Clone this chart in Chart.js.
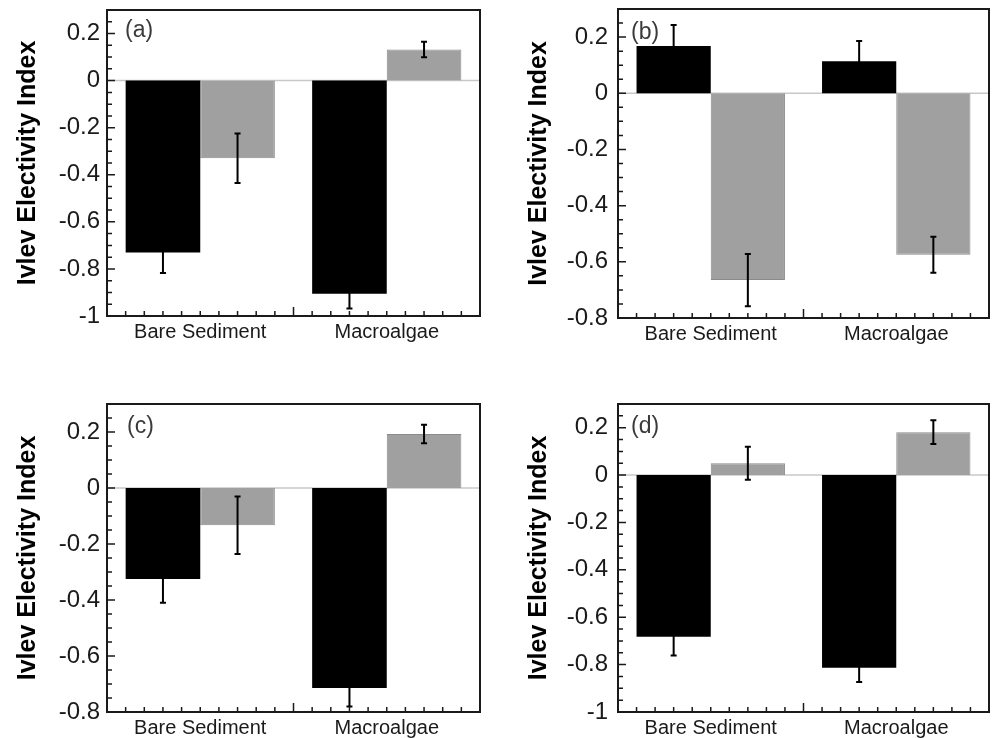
<!DOCTYPE html>
<html>
<head>
<meta charset="utf-8">
<script src="https://cdn.jsdelivr.net/npm/chart.js@4"></script>
<style>
  body { margin: 0; background: #fff; overflow: hidden; }
  canvas { position: absolute; }
</style>
</head>
<body>
<canvas id="a" width="496" height="389" style="left:0;top:-20px"></canvas>
<canvas id="b" width="496" height="390" style="left:496px;top:-21px"></canvas>
<canvas id="c" width="496" height="369" style="left:0;top:369px"></canvas>
<canvas id="d" width="496" height="369" style="left:496px;top:369px"></canvas>
<script>
const categories = ["Bare Sediment", "Macroalgae"];

// (a)
const blackA = [-0.73, -0.905];
const blackErrA = [0.087, 0.063];
const greyA = [-0.33, 0.132];
const greyErrA = [0.105, 0.033];

// (b)
const blackB = [0.168, 0.114];
const blackErrB = [0.075, 0.072];
const greyB = [-0.665, -0.575];
const greyErrB = [0.093, 0.064];

// (c)
const blackC = [-0.325, -0.714];
const blackErrC = [0.085, 0.066];
const greyC = [-0.133, 0.193];
const greyErrC = [0.103, 0.033];

// (d)
const blackD = [-0.682, -0.813];
const blackErrD = [0.08, 0.06];
const greyD = [0.05, 0.181];
const greyErrD = [0.07, 0.05];

const ticksLong = [-1, -0.8, -0.6, -0.4, -0.2, 0, 0.2];
const ticksShort = [-0.8, -0.6, -0.4, -0.2, 0, 0.2];

const FONT = "'Liberation Sans', Arial, Helvetica, sans-serif";

const decorations = {
  id: "decorations",
  beforeDatasetsDraw(chart) {
    const { ctx, chartArea: a, scales: { y } } = chart;
    const y0 = y.getPixelForValue(0);
    ctx.save();
    ctx.strokeStyle = "#c8c8c8";
    ctx.lineWidth = 1.5;
    ctx.beginPath();
    ctx.moveTo(a.left, y0);
    ctx.lineTo(a.right, y0);
    ctx.stroke();
    ctx.restore();
  },
  afterDatasetsDraw(chart) {
    const { ctx, scales: { y } } = chart;
    ctx.save();
    ctx.strokeStyle = "#000";
    ctx.lineWidth = 2;
    chart.data.datasets.forEach((ds, i) => {
      chart.getDatasetMeta(i).data.forEach((bar, j) => {
        const hi = y.getPixelForValue(ds.data[j] + ds.errors[j]);
        const lo = y.getPixelForValue(ds.data[j] - ds.errors[j]);
        ctx.beginPath();
        ctx.moveTo(bar.x, hi); ctx.lineTo(bar.x, lo);
        ctx.moveTo(bar.x - 3, hi); ctx.lineTo(bar.x + 3, hi);
        ctx.moveTo(bar.x - 3, lo); ctx.lineTo(bar.x + 3, lo);
        ctx.stroke();
      });
    });
    ctx.restore();
  },
  afterDraw(chart, args, opts) {
    const { ctx, chartArea: a, scales: { x, y } } = chart;
    ctx.save();
    ctx.strokeStyle = "#1a1a1a";
    ctx.lineWidth = 2;
    ctx.strokeRect(a.left, a.top, a.right - a.left, a.bottom - a.top);

    // inward ticks on the left axis, every 0.05
    ctx.lineWidth = 1.5;
    ctx.beginPath();
    for (let k = Math.ceil(y.min / 0.05); k <= Math.floor(y.max / 0.05); k++) {
      const py = y.getPixelForValue(k * 0.05);
      const len = k % 4 === 0 ? 8 : 5;
      ctx.moveTo(a.left, py); ctx.lineTo(a.left + len, py);
    }
    // inward ticks on the bottom axis, every tenth of a category
    for (let k = -4; k <= 14; k++) {
      const px = x.getPixelForValue(k / 10);
      const len = k === 5 ? 9 : 5;
      ctx.moveTo(px, a.bottom); ctx.lineTo(px, a.bottom - len);
    }
    ctx.stroke();

    ctx.fillStyle = "#3a3a3a";
    ctx.font = "23px " + FONT;
    ctx.textBaseline = "middle";
    ctx.fillText(opts.tag, a.left + opts.dx, a.top + opts.dy);
    ctx.restore();
  }
};

const panels = [
  { id: "a", tag: "(a)", black: blackA, blackErr: blackErrA, grey: greyA, greyErr: greyErrA,
    min: -1, max: 0.3, ticks: ticksLong, padTop: 30, padRight: 16, axisW: 107, axisH: 53,
    tickPad: 7, titlePad: 13, dx: 18, dy: 21 },
  { id: "b", tag: "(b)", black: blackB, blackErr: blackErrB, grey: greyB, greyErr: greyErrB,
    min: -0.8, max: 0.3, ticks: ticksShort, padTop: 30, padRight: 3, axisW: 122, axisH: 51,
    tickPad: 10, titlePad: 28, dx: 13, dy: 24 },
  { id: "c", tag: "(c)", black: blackC, blackErr: blackErrC, grey: greyC, greyErr: greyErrC,
    min: -0.8, max: 0.3, ticks: ticksShort, padTop: 35, padRight: 16, axisW: 107, axisH: 26,
    tickPad: 7, titlePad: 13, dx: 20, dy: 23 },
  { id: "d", tag: "(d)", black: blackD, blackErr: blackErrD, grey: greyD, greyErr: greyErrD,
    min: -1, max: 0.3, ticks: ticksLong, padTop: 35, padRight: 3, axisW: 122, axisH: 26,
    tickPad: 10, titlePad: 28, dx: 13, dy: 23 }
];

panels.forEach(p => {
  new Chart(document.getElementById(p.id), {
    type: "bar",
    data: {
      labels: categories,
      datasets: [
        { label: "Black", data: p.black, errors: p.blackErr, backgroundColor: "#000000",
          borderWidth: 0, categoryPercentage: 0.8, barPercentage: 1.0 },
        { label: "Grey", data: p.grey, errors: p.greyErr, backgroundColor: "#a0a0a0",
          borderColor: "#8a8a8a", borderWidth: 1, categoryPercentage: 0.8, barPercentage: 1.0 }
      ]
    },
    options: {
      responsive: false,
      animation: false,
      layout: { padding: { top: p.padTop, right: p.padRight, left: 0, bottom: 0 } },
      plugins: {
        legend: { display: false },
        tooltip: { enabled: false },
        decorations: { tag: p.tag, dx: p.dx, dy: p.dy }
      },
      scales: {
        x: {
          afterFit(s) { s.height = p.axisH; },
          grid: { display: false, drawTicks: false },
          border: { display: false },
          ticks: { padding: 4, maxRotation: 0, color: "#1a1a1a", font: { size: 20, family: FONT } }
        },
        y: {
          min: p.min,
          max: p.max,
          afterFit(s) { s.width = p.axisW; },
          afterBuildTicks(s) { s.ticks = p.ticks.map(v => ({ value: v })); },
          grid: { display: false, drawTicks: false },
          border: { display: false },
          ticks: {
            padding: p.tickPad,
            color: "#1a1a1a",
            font: { size: 24, family: FONT },
            callback: v => String(Math.round(v * 10) / 10)
          },
          title: {
            display: true,
            text: "Ivlev Electivity Index",
            color: "#000",
            font: { size: 25, weight: "bold", family: FONT },
            padding: { top: p.titlePad, bottom: 0 }
          }
        }
      }
    },
    plugins: [decorations]
  });
});
</script>
</body>
</html>
